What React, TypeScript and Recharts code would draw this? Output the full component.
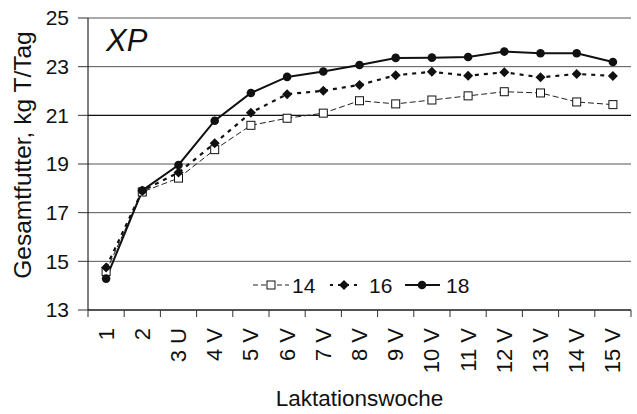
import React from "react";
import {
  LineChart,
  Line,
  XAxis,
  YAxis,
  CartesianGrid,
  ReferenceLine,
} from "recharts";

const weeks = ["1", "2", "3 U", "4 V", "5 V", "6 V", "7 V", "8 V", "9 V", "10 V", "11 V", "12 V", "13 V", "14 V", "15 V"];
const s14 = [14.58, 17.85, 18.42, 19.59, 20.59, 20.88, 21.09, 21.6, 21.47, 21.63, 21.8, 21.97, 21.92, 21.55, 21.44];
const s16 = [14.75, 17.9, 18.65, 19.85, 21.11, 21.87, 22.01, 22.25, 22.65, 22.79, 22.63, 22.77, 22.56, 22.7, 22.62];
const s18 = [14.29, 17.91, 18.96, 20.78, 21.92, 22.58, 22.8, 23.07, 23.36, 23.37, 23.4, 23.62, 23.55, 23.55, 23.19];
const yTicks = [13, 15, 17, 19, 21, 23, 25];
const seriesNames = ["14", "16", "18"];

const data = weeks.map((w, i) => ({ week: w, a: s14[i], b: s16[i], c: s18[i] }));

const W = 637;
const H = 414;
const M = { top: 18, right: 6, left: 0, bottom: 0 };
const YW = 88;
const XH = 104;
const PLOT_W = W - M.left - M.right - YW;
const BW = PLOT_W / weeks.length;
const FONT = "'Liberation Sans', Arial, sans-serif";
const TXT = "#111";

const XTick = (props: any) => {
  const { x, y, payload, index } = props;
  const left = x - BW / 2;
  const right = x + BW / 2;
  return (
    <g>
      <line x1={left} y1={y} x2={left} y2={y + 7} stroke="#333" strokeWidth={1} />
      {index === weeks.length - 1 && (
        <line x1={right} y1={y} x2={right} y2={y + 7} stroke="#333" strokeWidth={1} />
      )}
      <text
        x={x}
        y={y + 18}
        transform={`rotate(-90 ${x} ${y + 18})`}
        textAnchor="end"
        dominantBaseline="central"
        fontSize={22}
        fontFamily={FONT}
        fill={TXT}
      >
        {payload.value}
      </text>
    </g>
  );
};

const SquareDot = (props: any) => {
  const { cx, cy } = props;
  if (cx == null || cy == null) return null;
  return <rect x={cx - 4} y={cy - 4} width={8} height={8} fill="#fff" stroke="#111" strokeWidth={1} />;
};
const DiamondDot = (props: any) => {
  const { cx, cy } = props;
  if (cx == null || cy == null) return null;
  return <polygon points={`${cx},${cy - 5} ${cx + 5},${cy} ${cx},${cy + 5} ${cx - 5},${cy}`} fill="#111" />;
};
const CircleDot = (props: any) => {
  const { cx, cy } = props;
  if (cx == null || cy == null) return null;
  return <circle cx={cx} cy={cy} r={4.3} fill="#111" />;
};

// legend layout (pixel positions of the legend block)
const LX = 253;
const LY = 285;

const LegendSvg = () => (
  <g>
    <line x1={LX} y1={LY} x2={LX + 36} y2={LY} stroke="#222" strokeWidth={1} strokeDasharray="5 3" />
    <rect x={LX + 14} y={LY - 4} width={8} height={8} fill="#fff" stroke="#111" />
    <text x={LX + 39} y={LY} dominantBaseline="central" fontSize={21} fontFamily={FONT} fill={TXT}>
      {seriesNames[0]}
    </text>
    <line x1={LX + 77} y1={LY} x2={LX + 105} y2={LY} stroke="#111" strokeWidth={2} strokeDasharray="3 5" />
    <polygon
      points={`${LX + 91},${LY - 5} ${LX + 96},${LY} ${LX + 91},${LY + 5} ${LX + 86},${LY}`}
      fill="#111"
    />
    <text x={LX + 116} y={LY} dominantBaseline="central" fontSize={21} fontFamily={FONT} fill={TXT}>
      {seriesNames[1]}
    </text>
    <line x1={LX + 152} y1={LY} x2={LX + 187} y2={LY} stroke="#111" strokeWidth={2} />
    <circle cx={LX + 169} cy={LY} r={4.3} fill="#111" />
    <text x={LX + 193} y={LY} dominantBaseline="central" fontSize={21} fontFamily={FONT} fill={TXT}>
      {seriesNames[2]}
    </text>
  </g>
);

export default function App() {
  return (
    <div style={{ position: "absolute", left: 0, top: 0, width: W, height: H, background: "#fff" }}>
      <LineChart width={W} height={H} data={data} margin={M}>
        <CartesianGrid horizontal vertical={false} stroke="#555" strokeWidth={1} />
        <ReferenceLine y={21} stroke="#000" strokeWidth={1} />
        <XAxis
          dataKey="week"
          height={XH}
          tickLine={false}
          tickSize={0}
          tickMargin={0}
          interval={0}
          padding={{ left: BW / 2, right: BW / 2 }}
          axisLine={{ stroke: "#000", strokeWidth: 1 }}
          tick={<XTick />}
          label={(p: any) => {
            const vb = p.viewBox || {};
            return (
              <text
                x={vb.x + vb.width / 2}
                y={vb.y + 88}
                textAnchor="middle"
                dominantBaseline="central"
                fontSize={22.5}
                fontFamily={FONT}
                fill={TXT}
              >
                Laktationswoche
              </text>
            );
          }}
        />
        <YAxis
          width={YW}
          domain={[13, 25]}
          ticks={yTicks}
          type="number"
          allowDataOverflow
          tickSize={10}
          tickMargin={9}
          tickLine={{ stroke: "#333" }}
          axisLine={{ stroke: "#000", strokeWidth: 1 }}
          tick={{ fontSize: 21, fontFamily: FONT, fill: TXT }}
          label={(p: any) => {
            const vb = p.viewBox || {};
            const cx = 22;
            const cy = vb.y + vb.height / 2 - 9;
            return (
              <text
                x={cx}
                y={cy}
                transform={`rotate(-90 ${cx} ${cy})`}
                textAnchor="middle"
                dominantBaseline="central"
                fontSize={24.5}
                fontFamily={FONT}
                fill={TXT}
              >
                Gesamtfutter, kg T/Tag
              </text>
            );
          }}
        />
        <YAxis
          yAxisId="r"
          orientation="right"
          width={0}
          domain={[13, 25]}
          tick={false}
          tickLine={false}
          axisLine={{ stroke: "#666", strokeWidth: 1 }}
        />
        <Line
          dataKey="a"
          name="14"
          stroke="#222"
          strokeWidth={1}
          strokeDasharray="6 3"
          dot={<SquareDot />}
          isAnimationActive={false}
        />
        <Line
          dataKey="b"
          name="16"
          stroke="#111"
          strokeWidth={2.2}
          strokeDasharray="4 5"
          dot={<DiamondDot />}
          isAnimationActive={false}
        />
        <Line
          dataKey="c"
          name="18"
          stroke="#111"
          strokeWidth={2}
          dot={<CircleDot />}
          isAnimationActive={false}
        />
        <LegendSvg />
        <text x={106} y={51} fontSize={31} fontStyle="italic" fontFamily={FONT} fill={TXT}>
          XP
        </text>
      </LineChart>
    </div>
  );
}
